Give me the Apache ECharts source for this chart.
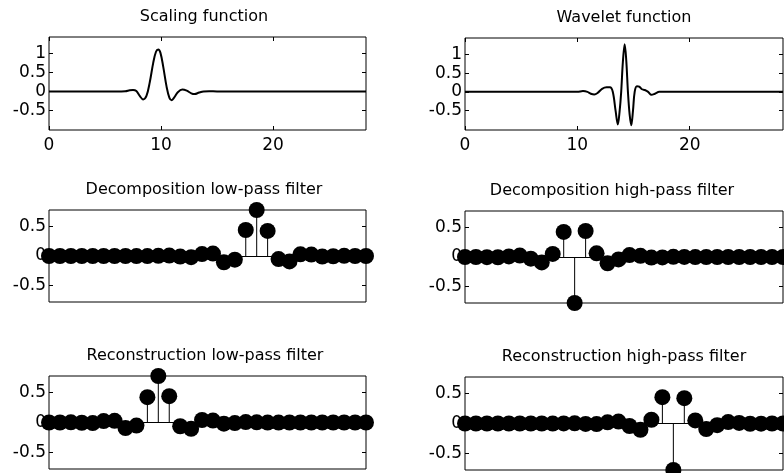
<!DOCTYPE html>
<html>
<head>
<meta charset="utf-8">
<script src="https://cdn.jsdelivr.net/npm/echarts@6/dist/echarts.min.js"></script>
<style>
html, body { margin: 0; background: #fff; }
#main { width: 784px; height: 473px; }
</style>
</head>
<body>
<div id="main"></div>
<script>
// scaling / wavelet function
var scalingFn = [[0,0],[6,0],[6.8,0.005],[7.2,0.03],[7.5,0.04],[7.8,0.01],[8.1,-0.12],[8.4,-0.21],[8.7,-0.12],
  [9.0,0.25],[9.3,0.75],[9.55,1.05],[9.75,1.11],[9.95,1.02],[10.2,0.65],[10.5,0.12],[10.75,-0.17],[10.95,-0.23],
  [11.2,-0.15],[11.5,-0.02],[11.9,0.05],[12.3,0.02],[12.7,-0.05],[13.0,-0.07],[13.4,-0.03],[13.8,0],[14.3,0.005],
  [15,0],[28.3,0]];
var waveletFn = [[0,0],[10,0],[10.5,0.02],[10.9,0],[11.2,-0.05],[11.5,-0.07],[11.8,-0.03],[12.2,0.08],[12.6,0.12],
  [12.9,0.12],[13.15,0],[13.4,-0.5],[13.6,-0.87],[13.75,-0.55],[13.9,0],[14.05,0.8],[14.21,1.27],[14.35,0.85],
  [14.5,0],[14.65,-0.6],[14.8,-0.89],[14.95,-0.5],[15.1,0],[15.3,0.15],[15.5,0.14],[15.75,0.07],[16.0,0.05],
  [16.3,0],[16.6,-0.08],[16.9,-0.05],[17.3,0],[28.3,0]];

// filter coefficients, 30 taps
var decLo = [0, 0, 0, 0, 0, 0, 0.0001, 0.0003, -0.0006, -0.0017, 0.0024, 0.0068, -0.0092, -0.0198, 0.0327,
  0.0413, -0.1056, -0.0620, 0.4380, 0.7743, 0.4216, -0.0520, -0.0919, 0.0282, 0.0234, -0.0101, -0.0042, 0.0022, 0.0004, -0.0002];
var decHi = [0.0002, 0.0004, -0.0022, -0.0042, 0.0101, 0.0234, -0.0282, -0.0919, 0.0520, 0.4216, -0.7743, 0.4380,
  0.0620, -0.1056, -0.0413, 0.0327, 0.0198, -0.0092, -0.0068, 0.0024, 0.0017, -0.0006, -0.0003, 0.0001, 0, 0, 0, 0, 0, 0];
var recLo = [-0.0002, 0.0004, 0.0022, -0.0042, -0.0101, 0.0234, 0.0282, -0.0919, -0.0520, 0.4216, 0.7743, 0.4380,
  -0.0620, -0.1056, 0.0413, 0.0327, -0.0198, -0.0092, 0.0068, 0.0024, -0.0017, -0.0006, 0.0003, 0.0001, 0, 0, 0, 0, 0, 0];
var recHi = [0, 0, 0, 0, 0, 0, 0.0001, -0.0003, -0.0006, 0.0017, 0.0024, -0.0068, -0.0092, 0.0198, 0.0327, -0.0413,
  -0.1056, 0.0620, 0.4380, -0.7743, 0.4216, 0.0520, -0.0919, -0.0282, 0.0234, 0.0101, -0.0042, -0.0022, 0.0004, 0.0002];

var fnXTicks = [0, 10, 20];
var fnYTicks = [-0.5, 0, 0.5, 1];
var filterYTicks = [-0.5, 0, 0.5];

var FONT = 'DejaVu Sans';

var panels = [
  {title: 'Scaling function', kind: 'fn', data: scalingFn, box: [49, 37, 317, 93], tx: 204},
  {title: 'Wavelet function', kind: 'fn', data: waveletFn, box: [465, 38, 318, 92], tx: 624},
  {title: 'Decomposition low-pass filter', kind: 'stem', data: decLo, box: [49, 210, 317, 92], tx: 204},
  {title: 'Decomposition high-pass filter', kind: 'stem', data: decHi, box: [465, 211, 318, 92], tx: 612},
  {title: 'Reconstruction low-pass filter', kind: 'stem', data: recLo, box: [49, 376, 317, 93], tx: 205},
  {title: 'Reconstruction high-pass filter', kind: 'stem', data: recHi, box: [465, 377, 318, 93], tx: 624}
];

var grids = [], xAxes = [], yAxes = [], series = [], titles = [];

function tick(vals) {
  return {show: true, inside: true, length: 4, lineStyle: {color: '#000'}, customValues: vals};
}
var noLine = {show: false, onZero: false};

panels.forEach(function (p, i) {
  var isFn = p.kind === 'fn';
  var ymin = isFn ? -1.02 : -0.774, ymax = isFn ? 1.44 : 0.774;
  var xmax = isFn ? 28.3 : 29;
  var yt = isFn ? fnYTicks : filterYTicks;
  grids.push({left: p.box[0], top: p.box[1], width: p.box[2], height: p.box[3],
    show: true, borderColor: '#000', borderWidth: 1, backgroundColor: '#fff'});
  titles.push({text: p.title, left: p.tx, top: p.box[1] - 28, textAlign: 'center', padding: 0,
    textStyle: {fontFamily: FONT, fontSize: 16, fontWeight: 'normal', color: '#000'}});

  xAxes.push({type: 'value', gridIndex: i, min: 0, max: xmax, position: 'bottom',
    axisLine: noLine, splitLine: {show: false},
    axisTick: isFn ? tick(fnXTicks) : {show: false},
    axisLabel: isFn ? {show: true, customValues: fnXTicks, margin: 7, color: '#000', fontFamily: FONT, fontSize: 17}
                    : {show: false}});
  xAxes.push({type: 'value', gridIndex: i, min: 0, max: xmax, position: 'top',
    axisLine: noLine, splitLine: {show: false},
    axisTick: isFn ? tick(fnXTicks) : {show: false}, axisLabel: {show: false}});
  yAxes.push({type: 'value', gridIndex: i, min: ymin, max: ymax, position: 'left',
    axisLine: noLine, splitLine: {show: false}, axisTick: tick(yt),
    axisLabel: {show: true, customValues: yt, margin: 3, color: '#000', fontFamily: FONT, fontSize: 17}});
  yAxes.push({type: 'value', gridIndex: i, min: ymin, max: ymax, position: 'right',
    axisLine: noLine, splitLine: {show: false}, axisTick: tick(yt), axisLabel: {show: false}});

  if (isFn) {
    series.push({type: 'line', xAxisIndex: 2 * i, yAxisIndex: 2 * i, data: p.data, smooth: 0.35,
      showSymbol: false, lineStyle: {color: '#000', width: 2}, z: 3});
  } else {
    var pts = p.data.map(function (v, k) { return [k, v]; });
    series.push({type: 'custom', xAxisIndex: 2 * i, yAxisIndex: 2 * i, data: pts, clip: false, z: 3,
      encode: {x: 0, y: 1},
      renderItem: function (params, api) {
        var a = api.coord([api.value(0), 0]);
        var b = api.coord([api.value(0), api.value(1)]);
        return {type: 'line', shape: {x1: a[0], y1: a[1], x2: b[0], y2: b[1]},
          style: {stroke: '#000', lineWidth: 1}};
      }});
    series.push({type: 'scatter', xAxisIndex: 2 * i, yAxisIndex: 2 * i, data: pts, clip: false, z: 4,
      symbol: 'circle', symbolSize: 16, itemStyle: {color: '#000', opacity: 1},
      markLine: {silent: true, symbol: 'none', label: {show: false},
        lineStyle: {color: '#000', width: 1, type: 'solid'}, data: [{yAxis: 0}]}});
  }
});

var chart = echarts.init(document.getElementById('main'));
chart.setOption({
  backgroundColor: '#fff',
  animation: false,
  title: titles,
  grid: grids,
  xAxis: xAxes,
  yAxis: yAxes,
  series: series
});
</script>
</body>
</html>
